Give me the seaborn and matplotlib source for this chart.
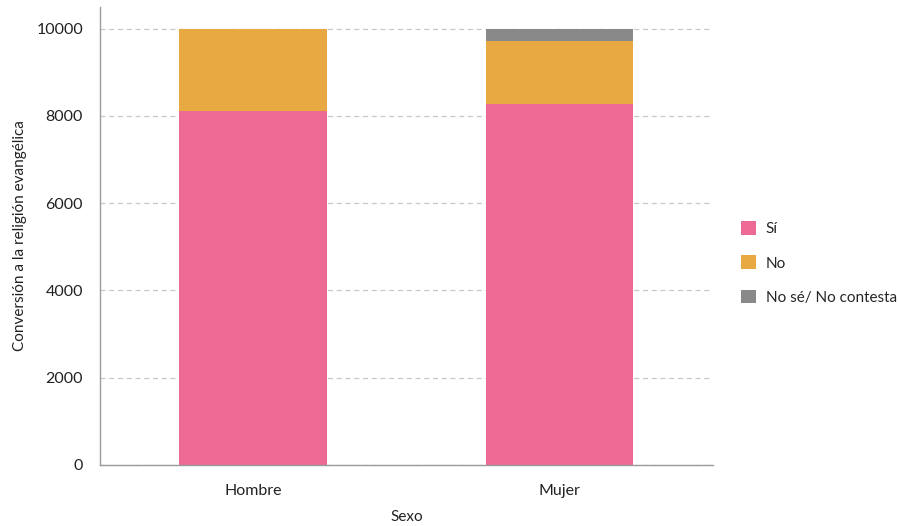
import matplotlib
matplotlib.use("Agg")
import matplotlib.pyplot as plt
import numpy as np
import pandas as pd
import seaborn as sns
from matplotlib.patches import Patch

sexo = ["Hombre", "Mujer"]
si = [8115, 8265]
no = [1885, 1455]
no_se = [0, 280]

series = ["Sí", "No", "No sé/ No contesta"]
colors = ["#EC6A93", "#E8A842", "#898989"]

sns.set_theme(style="white")
plt.rcParams["font.family"] = ["Lato", "DejaVu Sans"]

fig = plt.figure(figsize=(8.98, 5.26), dpi=100)
ax = fig.add_axes([0.111, 0.116, 0.683, 0.871])

bottom = np.zeros(len(sexo))
for name, vals, color in zip(series, [si, no, no_se], colors):
    df = pd.DataFrame({"sexo": sexo, "valor": vals})
    sns.barplot(data=df, x="sexo", y="valor", color=color, width=0.48,
                bottom=bottom, ax=ax, saturation=1, linewidth=0)
    bottom = bottom + np.array(vals)

ax.set_xlim(-0.5, 1.5)
ax.set_ylim(0, 10500)
ax.set_yticks([0, 2000, 4000, 6000, 8000, 10000])
ax.yaxis.grid(True, linestyle=(0, (4, 3)), color="#C8C8C8", linewidth=0.9)
ax.set_axisbelow(True)
for s in ["top", "right"]:
    ax.spines[s].set_visible(False)
for s in ["left", "bottom"]:
    ax.spines[s].set_color("#9A9A9A")
    ax.spines[s].set_linewidth(1.0)
ax.tick_params(axis="both", length=0, labelsize=11.5, colors="#222222")
ax.tick_params(axis="x", pad=14)
ax.tick_params(axis="y", pad=12)

ax.set_xlabel("Sexo", fontsize=11, color="#222222", va="center")
ax.xaxis.set_label_coords(0.5, -0.1135)
ax.set_ylabel("Conversión a la religión evangélica", fontsize=11, color="#222222",
              va="center", ha="center")
ax.yaxis.set_label_coords(-0.13, 0.5)

handles = [Patch(facecolor=c, edgecolor="none") for c in colors]
fig.legend(handles, series, loc="center left", bbox_to_anchor=(0.81, 0.5),
           frameon=False, fontsize=11, handlelength=1.0, handleheight=1.0,
           labelspacing=1.25, handletextpad=0.6)

fig.savefig("out.png", dpi=100)
